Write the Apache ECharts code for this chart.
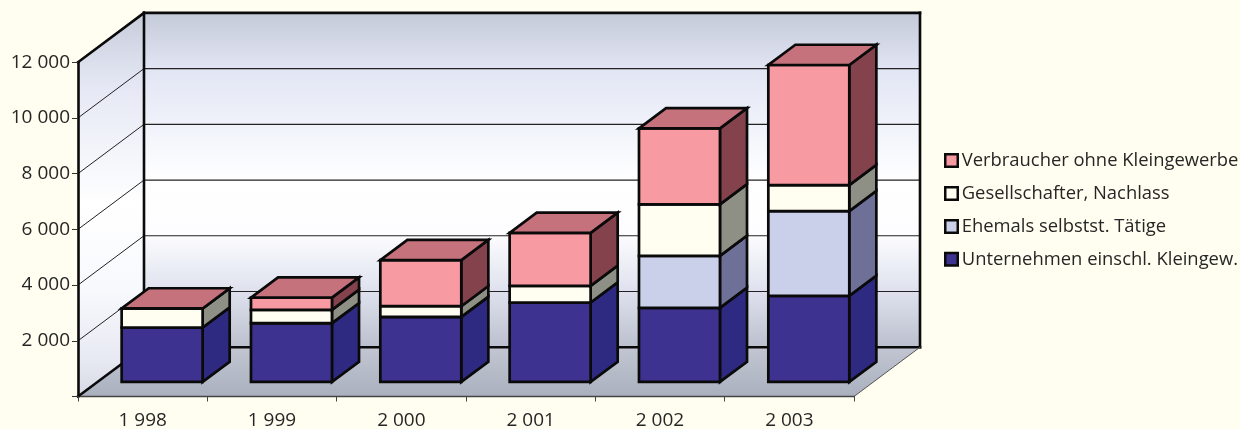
<!DOCTYPE html>
<html>
<head>
<meta charset="utf-8">
<style>html,body{margin:0;padding:0;background:#fffef0}#chart{width:1240px;height:429px}</style>
<script src="https://cdn.jsdelivr.net/npm/echarts@6/dist/echarts.min.js"></script>
</head>
<body>
<div id="chart"></div>
<script>
// Insolvency counts per year, stacked by debtor group
const years = ['1 998', '1 999', '2 000', '2 001', '2 002', '2 003'];
const yTickLabels = ['', '2 000', '4 000', '6 000', '8 000', '10 000', '12 000'];
const unternehmen = [1955, 2110, 2335, 2853, 2659, 3090];
const ehemals = [0, 0, 0, 0, 1868, 3043];
const gesellschafter = [683, 478, 384, 596, 1847, 934];
const verbraucher = [0, 442, 1653, 1904, 2730, 4311];

// Oblique projection of the box: wall depth and where a bar sits inside it
const WALL_DX = 66, WALL_DY = -49.3;
const BAR_OFFSET = 0.295, BAR_DEPTH = 0.41, BAR_WIDTH = 0.626;
const INK = '#0a0a0a', TEXT = '#262626', PAPER = '#fffef0';

const groups = [
  { name: 'Unternehmen einschl. Kleingew.', values: unternehmen, front: '#3e3291', side: '#2e2a82', top: '#2e2a82' },
  { name: 'Ehemals selbstst. Tätige', values: ehemals, front: '#cbd0ea', side: '#6e7098', top: '#9a9db8' },
  { name: 'Gesellschafter, Nachlass', values: gesellschafter, front: '#fffef0', side: '#8e8f85', top: '#c0c0b5' },
  { name: 'Verbraucher ohne Kleingewerbe', values: verbraucher, front: '#f79aa1', side: '#84424c', top: '#c6727c' }
];

function vertical(stops) {
  return new echarts.graphic.LinearGradient(0, 0, 0, 1,
    stops.map(s => ({ offset: s[0], color: s[1] })));
}

// Back wall, side wall, floor and their gridlines
function renderWalls(params, api) {
  const cs = params.coordSys;
  const x0 = cs.x, x1 = cs.x + cs.width, yTop = cs.y, yBase = cs.y + cs.height;
  const line = (a, b, width, color) => ({
    type: 'line', shape: { x1: a[0], y1: a[1], x2: b[0], y2: b[1] },
    style: { stroke: color || INK, lineWidth: width, lineCap: 'square' }
  });
  const poly = (points, fill) => ({
    type: 'polygon', shape: { points }, style: { fill, stroke: 'none' }
  });
  const back = (p) => [p[0] + WALL_DX, p[1] + WALL_DY];
  const children = [
    poly([back([x0, yTop]), back([x1, yTop]), back([x1, yBase]), back([x0, yBase])],
      vertical([[0, '#c5cad8'], [0.17, '#e2e6f4'], [0.38, '#f4f6fc'], [0.5, '#ffffff'], [0.66, '#fdfdff'], [0.83, '#dfe2ee'], [1, '#bcc0ce']])),
    poly([[x0, yTop], back([x0, yTop]), back([x0, yBase]), [x0, yBase]],
      vertical([[0, '#c8ccdb'], [0.2, '#e6e9f5'], [0.5, '#ffffff'], [0.72, '#f8f9fd'], [0.9, '#e8eaf3'], [1, '#d6d9e4']])),
    poly([[x0, yBase], [x1, yBase], back([x1, yBase]), back([x0, yBase])],
      vertical([[0, '#c2c6d2'], [1, '#aab0be']]))
  ];
  for (let i = 1; i < yTickLabels.length - 1; i++) {
    const p = api.coord([0, i * 2000]);
    const front = [x0, p[1]];
    children.push(line(front, back(front), 1, '#222'));
    children.push(line(back(front), back([x1, p[1]]), 1.2, '#222'));
  }
  children.push(line(back([x0, yTop]), back([x1, yTop]), 2.6));
  children.push(line(back([x1, yTop]), back([x1, yBase]), 2.6));
  children.push(line(back([x0, yTop]), back([x0, yBase]), 2.6));
  children.push(line(back([x0, yBase]), back([x1, yBase]), 2.6));
  children.push(line([x0, yTop], back([x0, yTop]), 2.6));
  children.push(line([x0, yBase], back([x0, yBase]), 2.6));
  children.push(line([x1, yBase], back([x1, yBase]), 1, '#555'));
  children.push(line([x0, yBase], [x1, yBase], 1.5, '#444'));
  return { type: 'group', children };
}

// One stacked segment of a bar: front, right side, and the lid on the top group
function renderSegment(group, isTop) {
  return function (params, api) {
    const cat = api.value(0), from = api.value(1), to = api.value(2);
    const band = api.size([1, 0])[0];
    const c0 = api.coord([cat, from]), c1 = api.coord([cat, to]);
    const left = c0[0] - band * BAR_WIDTH / 2 + WALL_DX * BAR_OFFSET;
    const right = left + band * BAR_WIDTH;
    const lift = WALL_DY * BAR_OFFSET;
    const yb = c0[1] + lift, yt = c1[1] + lift;
    const dx = WALL_DX * BAR_DEPTH, dy = WALL_DY * BAR_DEPTH;
    const edge = { stroke: INK, lineWidth: 2.7, lineJoin: 'miter' };
    const face = (points, fill) => ({
      type: 'polygon', shape: { points }, style: Object.assign({ fill }, edge)
    });
    const children = [
      face([[right, yb], [right + dx, yb + dy], [right + dx, yt + dy], [right, yt]], group.side),
      face([[left, yb], [right, yb], [right, yt], [left, yt]], group.front)
    ];
    if (isTop) {
      children.push(face([[left, yt], [right, yt], [right + dx, yt + dy], [left + dx, yt + dy]], group.top));
    }
    return { type: 'group', children };
  };
}

const running = years.map(() => 0);
const segmentSeries = groups.map((group, g) => {
  const data = group.values.map((v, i) => {
    const item = [i, running[i], running[i] + v];
    running[i] += v;
    return item;
  });
  return {
    type: 'custom', name: group.name, z: 3, silent: true,
    coordinateSystem: 'cartesian2d',
    itemStyle: { color: group.front },
    encode: { x: 0, y: [1, 2] },
    renderItem: renderSegment(group, g === groups.length - 1),
    data
  };
});

const chart = echarts.init(document.getElementById('chart'), null, { renderer: 'canvas' });
chart.setOption({
  animation: false,
  backgroundColor: PAPER,
  textStyle: { fontFamily: '"Open Sans", "Noto Sans", sans-serif' },
  grid: { left: 78, top: 62.2, width: 776, height: 334.3, containLabel: false, outerBoundsMode: 'none' },
  xAxis: {
    type: 'category', data: years, boundaryGap: true, z: 4,
    axisLine: { show: false },
    axisTick: { show: true, alignWithLabel: false, length: 5, lineStyle: { color: '#444', width: 1 } },
    axisLabel: { color: TEXT, fontSize: 19, margin: 15, interval: 0 }
  },
  yAxis: {
    type: 'value', min: 0, max: 12000, interval: 2000, z: 4,
    splitLine: { show: false },
    axisLine: { show: true, lineStyle: { color: INK, width: 2.6 } },
    axisTick: { show: true, length: 6, lineStyle: { color: '#333', width: 1 } },
    axisLabel: {
      color: TEXT, fontSize: 19, margin: 8,
      formatter: v => yTickLabels[v / 2000]
    }
  },
  legend: {
    orient: 'vertical', left: 944, top: 149.6, itemWidth: 12.5, itemHeight: 12.5,
    itemGap: 10.9, padding: 0, selectedMode: false, icon: 'rect',
    textStyle: { color: TEXT, fontSize: 18.4, padding: [0, 0, 0, -1], lineHeight: 22 },
    data: groups.slice().reverse().map(group => ({
      name: group.name,
      itemStyle: { color: group.front, borderColor: INK, borderWidth: 2.5 }
    }))
  },
  series: [
    { type: 'custom', z: 1, silent: true, coordinateSystem: 'cartesian2d', renderItem: renderWalls, data: [[0, 0]] }
  ].concat(segmentSeries)
});
</script>
</body>
</html>
